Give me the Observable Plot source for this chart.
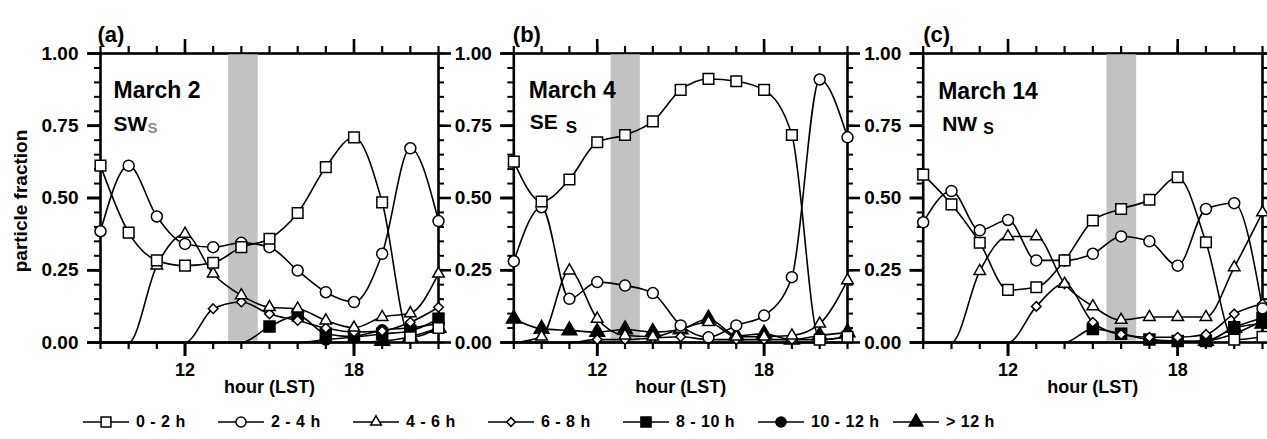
<!DOCTYPE html>
<html>
<head>
<meta charset="utf-8">
<script src="https://cdn.jsdelivr.net/npm/d3@7"></script>
<script src="https://cdn.jsdelivr.net/npm/@observablehq/plot@0.6"></script>
<style>
  html, body { margin: 0; padding: 0; background: #fff; }
  #chart { position: relative; width: 1267px; height: 439px; overflow: hidden;
           font-family: "Liberation Sans", Arial, Helvetica, sans-serif; font-weight: bold; }
  .lg-item { position: absolute; display: flex; align-items: center; height: 20px;
             font-size: 16px; font-weight: bold; color: #000; white-space: pre; letter-spacing: 0.5px; }
  .lg-item svg { display: block; margin-right: 7px; }
  #ylabel { position: absolute; left: 21px; top: 201px; transform: translate(-50%, -50%) rotate(-90deg);
            font-size: 19px; font-weight: bold; color: #000; white-space: nowrap; }
</style>
</head>
<body>
<div id="chart"></div>
<script>
// ---------------- DATA ----------------
const hours = [9, 10, 11, 12, 13, 14, 15, 16, 17, 18, 19, 20, 21];
const hourLabels = [12, 18];
const fractionTicks = [0, 0.25, 0.5, 0.75, 1];
const fractionMinorTicks = [0, 0.05, 0.1, 0.15, 0.2, 0.25, 0.3, 0.35, 0.4, 0.45, 0.5,
                            0.55, 0.6, 0.65, 0.7, 0.75, 0.8, 0.85, 0.9, 0.95, 1];
const sizeClasses = ["0 - 2 h", "2 - 4 h", "4 - 6 h", "6 - 8 h", "8 - 10 h", "10 - 12 h", "> 12 h"];
const panelLetters = ["(a)", "(b)", "(c)"];
const dates = ["March 2", "March 4", "March 14"];
const sectors = ["SW", "SE", "NW"];
const sectorSub = ["S", "S", "S"];
const shadedHours = [[13.55, 14.6], [12.5, 13.55], [15.5, 16.55]];
const yTitle = "particle fraction";
const xTitle = "hour (LST)";

// particle fraction, one row per size class, one value per hour (9..21)
const valuesA = [
  [0.612, 0.38, 0.284, 0.266, 0.276, 0.33, 0.359, 0.448, 0.607, 0.71, 0.485, 0.018, 0.05],
  [0.385, 0.612, 0.436, 0.341, 0.33, 0.345, 0.33, 0.249, 0.174, 0.14, 0.307, 0.672, 0.42],
  [0, 0, 0.266, 0.376, 0.238, 0.163, 0.122, 0.117, 0.076, 0.051, 0.088, 0.101, 0.238],
  [0, 0, 0, 0, 0.117, 0.14, 0.099, 0.076, 0.05, 0.036, 0.04, 0.07, 0.122],
  [0, 0, 0, 0, 0, 0, 0.055, 0.093, 0.03, 0.02, 0.03, 0.04, 0.082],
  [0, 0, 0, 0, 0, 0, 0, 0, 0.01, 0.02, 0.042, 0.051, 0.065],
  [0, 0, 0, 0, 0, 0, 0, 0, 0, 0, 0.005, 0.02, 0.05]
];
const valuesB = [
  [0.626, 0.488, 0.564, 0.693, 0.718, 0.765, 0.874, 0.912, 0.904, 0.874, 0.718, 0.01, 0.02],
  [0.281, 0.468, 0.151, 0.209, 0.197, 0.171, 0.059, 0.018, 0.059, 0.093, 0.226, 0.91, 0.71],
  [0, 0.02, 0.249, 0.082, 0.024, 0.02, 0.047, 0.07, 0.02, 0.02, 0.024, 0.065, 0.215],
  [0, 0, 0, 0.01, 0.01, 0.015, 0.02, 0.01, 0.01, 0.01, 0.01, 0.01, 0.018],
  [0, 0, 0, 0, 0, 0, 0, 0, 0, 0, 0, 0, 0],
  [0, 0, 0, 0, 0, 0, 0, 0, 0, 0, 0, 0, 0],
  [0.082, 0.047, 0.042, 0.036, 0.045, 0.036, 0.045, 0.082, 0.024, 0.03, 0.01, 0.024, 0.035]
];
const valuesC = [
  [0.581, 0.478, 0.345, 0.182, 0.191, 0.284, 0.422, 0.462, 0.494, 0.572, 0.347, 0.01, 0.02],
  [0.416, 0.524, 0.388, 0.424, 0.284, 0.284, 0.307, 0.367, 0.35, 0.266, 0.462, 0.482, 0.118],
  [0, 0, 0.247, 0.367, 0.367, 0.203, 0.125, 0.078, 0.088, 0.088, 0.088, 0.26, 0.45],
  [0, 0, 0, 0, 0.125, 0.203, 0.07, 0.028, 0.018, 0.018, 0.028, 0.099, 0.134],
  [0, 0, 0, 0, 0, 0, 0.047, 0.03, 0.01, 0.005, 0.005, 0.053, 0.085],
  [0, 0, 0, 0, 0, 0, 0, 0, 0, 0, 0.005, 0.03, 0.075],
  [0, 0, 0, 0, 0, 0, 0, 0, 0, 0, 0.005, 0.05, 0.065]
];
const panelValues = [valuesA, valuesB, valuesC];

// ---------------- STYLE / LAYOUT ----------------
const FONT = "Liberation Sans, Arial, sans-serif";
const symbols = ["square", "circle", "triangle", "diamond2", "square", "circle", "triangle"];
const fills   = ["#fff", "#fff", "#fff", "#fff", "#000", "#000", "#000"];
const radii   = [6, 5.5, 4.3, 4.3, 6.2, 5.5, 5.5];

const layout = [
  {left: 0,   width: 448, ml: 100,  mr: 10,
   letter: [-3, -27], date: [13, 28], sec: [13, 62.3], sub: [47, 69.2, 15, "#8a8a8a"]},
  {left: 448, width: 412, ml: 65.3, mr: 13,
   letter: [-1, -27], date: [15, 28], sec: [16, 60.3], sub: [52, 67.6, 17, "#000"]},
  {left: 860, width: 407, ml: 62.7, mr: 5,
   letter: [0, -27],  date: [15, 29], sec: [19, 62.3], sub: [60, 68.9, 16, "#000"]}
];
const MT = 53, MB = 58, H = 400;
const FH = H - MT - MB;

const chart = document.getElementById("chart");

function makePanel(p) {
  const L = layout[p];
  const FW = L.width - L.ml - L.mr;
  const vals = panelValues[p];
  const rows = [];
  sizeClasses.forEach((c, s) => hours.forEach((h, k) => rows.push({cls: c, s, hour: h, v: vals[s][k]})));

  const tk = {stroke: "#000"};
  const txt = {fontWeight: "bold", fill: "#000", fontFamily: FONT};
  const marks = [
    // frame and outward tick lines first
    Plot.frame({stroke: "#000", strokeWidth: 2.6}),
    Plot.tickY(fractionMinorTicks, {y: d => d, insetLeft: -6, insetRight: FW, strokeWidth: 2, ...tk}),
    Plot.tickY(fractionTicks, {y: d => d, insetLeft: -13, insetRight: FW, strokeWidth: 2.6, ...tk}),
    Plot.tickY(fractionMinorTicks, {y: d => d, insetLeft: FW, insetRight: -6, strokeWidth: 2, ...tk}),
    Plot.tickY(fractionTicks, {y: d => d, insetLeft: FW, insetRight: -13, strokeWidth: 2.6, ...tk}),
    Plot.tickX(hours, {x: d => d, insetTop: -7, insetBottom: FH, strokeWidth: 2.2, ...tk}),
    Plot.tickX(hourLabels, {x: d => d, insetTop: -14, insetBottom: FH, strokeWidth: 2.6, ...tk}),
    Plot.tickX(hours, {x: d => d, insetTop: FH, insetBottom: -7, strokeWidth: 2.2, ...tk}),
    Plot.tickX(hourLabels, {x: d => d, insetTop: FH, insetBottom: -14, strokeWidth: 2.6, ...tk}),
    // tick labels
    Plot.axisY({anchor: "left", ticks: fractionTicks, tickSize: 13, tickPadding: 9, stroke: "#000", strokeWidth: 2.6,
                tickFormat: d3.format(".2f"), label: null, fontSize: 19, fontWeight: "bold", fontFamily: FONT}),
    Plot.axisX({anchor: "bottom", ticks: hourLabels, tickSize: 14, tickPadding: 7, stroke: "#000", strokeWidth: 2.6,
                tickFormat: d => String(d), label: null, fontSize: 18, fontWeight: "bold", fontFamily: FONT}),
    // shaded period
    Plot.rect([shadedHours[p]], {x1: d => d[0], x2: d => d[1], y1: 0, y2: 1, fill: "#c2c2c2", insetTop: 1.3, insetBottom: 1.3})
  ];
  for (let s = 0; s < sizeClasses.length; s++) {
    marks.push(Plot.line(rows.filter(d => d.s === s), {
      x: "hour", y: "v", curve: "monotone-x", stroke: "#000", strokeWidth: 1.6
    }));
  }
  // markers (zero values not marked)
  for (let s = sizeClasses.length - 1; s >= 0; s--) {
    marks.push(Plot.dot(rows.filter(d => d.s === s && d.v > 0), {
      x: "hour", y: "v", symbol: symbols[s], r: radii[s],
      fill: fills[s], stroke: "#000", strokeWidth: 1.5
    }));
  }
  // texts
  marks.push(
    Plot.text([panelLetters[p]], {text: d => d, frameAnchor: "top-left", textAnchor: "start",
      dx: L.letter[0], dy: L.letter[1], fontSize: 22, ...txt}),
    Plot.text([dates[p]], {text: d => d, frameAnchor: "top-left", textAnchor: "start",
      dx: L.date[0], dy: L.date[1], fontSize: 23, ...txt}),
    Plot.text([sectors[p]], {text: d => d, frameAnchor: "top-left", textAnchor: "start",
      dx: L.sec[0], dy: L.sec[1], fontSize: 21, ...txt}),
    Plot.text([sectorSub[p]], {text: d => d, frameAnchor: "top-left", textAnchor: "start",
      dx: L.sub[0], dy: L.sub[1], fontSize: L.sub[2], fontWeight: "bold", fontFamily: FONT, fill: L.sub[3]}),
    Plot.text([xTitle], {text: d => d, frameAnchor: "bottom", dy: 50, fontSize: 18, ...txt})
  );

  const svg = Plot.plot({
    width: L.width, height: H,
    marginLeft: L.ml, marginRight: L.mr, marginTop: MT, marginBottom: MB,
    x: {domain: [9, 21]},
    y: {domain: [0, 1]},
    style: {background: "transparent", overflow: "visible"},
    marks
  });
  svg.style.position = "absolute";
  svg.style.left = L.left + "px";
  svg.style.top = "0px";
  svg.style.maxWidth = "none";
  chart.appendChild(svg);
}

[0, 1, 2].forEach(makePanel);

// y-axis title (panel a)
const yl = document.createElement("div");
yl.id = "ylabel";
yl.textContent = yTitle;
chart.appendChild(yl);

// ---------------- LEGEND ----------------
const legendX0 = 83, legendStep = 135, legendTop = 412;
const d3Sym = {square: d3.symbolSquare, circle: d3.symbolCircle, triangle: d3.symbolTriangle,
               diamond2: d3.symbolDiamond2 || d3.symbolDiamond};
sizeClasses.forEach((c, s) => {
  const item = document.createElement("div");
  item.className = "lg-item";
  item.style.left = (legendX0 + s * legendStep) + "px";
  item.style.top = legendTop + "px";
  const ns = "http://www.w3.org/2000/svg";
  const sv = document.createElementNS(ns, "svg");
  sv.setAttribute("width", 46); sv.setAttribute("height", 20);
  const ln = document.createElementNS(ns, "line");
  ln.setAttribute("x1", 0); ln.setAttribute("x2", 46); ln.setAttribute("y1", 10); ln.setAttribute("y2", 10);
  ln.setAttribute("stroke", "#000"); ln.setAttribute("stroke-width", 1.5);
  sv.appendChild(ln);
  const pth = document.createElementNS(ns, "path");
  pth.setAttribute("d", d3.symbol(d3Sym[symbols[s]], Math.PI * radii[s] * radii[s] * 0.85)());
  pth.setAttribute("transform", "translate(23,10)");
  pth.setAttribute("fill", fills[s]); pth.setAttribute("stroke", "#000"); pth.setAttribute("stroke-width", 1.5);
  sv.appendChild(pth);
  item.appendChild(sv);
  const span = document.createElement("span");
  span.textContent = c;
  item.appendChild(span);
  chart.appendChild(item);
});
</script>
</body>
</html>
